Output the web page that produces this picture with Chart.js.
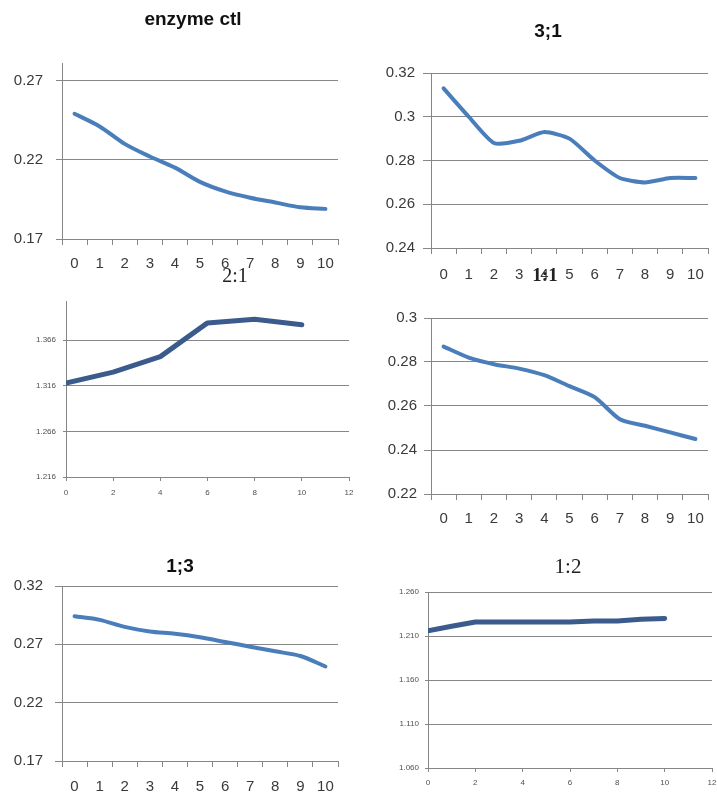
<!DOCTYPE html>
<html>
<head>
<meta charset="utf-8">
<script src="https://cdn.jsdelivr.net/npm/chart.js@4/dist/chart.umd.min.js"></script>
<style>
  html, body { margin: 0; padding: 0; background: #ffffff; overflow: hidden; width: 717px; height: 797px; }
  canvas { position: absolute; left: 0; top: 0; pointer-events: none; }
</style>
</head>
<body>
<canvas id="pEnzyme" width="760" height="840"></canvas>
<canvas id="p31" width="760" height="840"></canvas>
<canvas id="p21" width="760" height="840"></canvas>
<canvas id="p11" width="760" height="840"></canvas>
<canvas id="p13" width="760" height="840"></canvas>
<canvas id="p12" width="760" height="840"></canvas>
<script>
// ---- data ----
const timeLabels = ['0', '1', '2', '3', '4', '5', '6', '7', '8', '9', '10'];

const enzymeCtl = [0.249, 0.241, 0.230, 0.222, 0.215, 0.206, 0.200, 0.196, 0.193, 0.190, 0.189];
const ratio3to1 = [0.313, 0.300, 0.288, 0.289, 0.293, 0.290, 0.280, 0.272, 0.270, 0.272, 0.272];
const ratio1to1 = [0.287, 0.282, 0.279, 0.277, 0.274, 0.269, 0.264, 0.254, 0.251, 0.248, 0.245];
const ratio1to3 = [0.294, 0.291, 0.285, 0.281, 0.279, 0.276, 0.272, 0.268, 0.264, 0.260, 0.251];

const ratio2to1Time = [0, 2, 4, 6, 8, 10];
const ratio2to1 = [1.319, 1.331, 1.348, 1.385, 1.389, 1.383];

const ratio1to2Time = [0, 1, 2, 3, 4, 5, 6, 7, 8, 9, 10];
const ratio1to2 = [1.216, 1.221, 1.226, 1.226, 1.226, 1.226, 1.226, 1.227, 1.227, 1.229, 1.230];

// axis ticks
const enzymeTicks = [0.17, 0.22, 0.27];
const enzymeTickLabels = ['0.17', '0.22', '0.27'];
const ticks3to1 = [0.24, 0.26, 0.28, 0.30, 0.32];
const tickLabels3to1 = ['0.24', '0.26', '0.28', '0.3', '0.32'];
const ticks1to1 = [0.22, 0.24, 0.26, 0.28, 0.30];
const tickLabels1to1 = ['0.22', '0.24', '0.26', '0.28', '0.3'];
const ticks1to3 = [0.17, 0.22, 0.27, 0.32];
const tickLabels1to3 = ['0.17', '0.22', '0.27', '0.32'];
const ticks2to1 = [1.216, 1.266, 1.316, 1.366];
const tickLabels2to1 = ['1.216', '1.266', '1.316', '1.366'];
const ticks1to2 = [1.06, 1.11, 1.16, 1.21, 1.26];
const tickLabels1to2 = ['1.060', '1.110', '1.160', '1.210', '1.260'];
const timeTicks = [0, 2, 4, 6, 8, 10, 12];

// ---- drawing ----
const CANVAS_W = 760, CANVAS_H = 840;
const Y_AXIS_W = 55, X_AXIS_H = 40;
const GRID = '#878787';
const AXIS = '#868686';
const BLUE = '#4A7EBB';
const DARK_BLUE = '#3B5B8C';
const SANS = '"Liberation Sans", Arial, sans-serif';
const SERIF = '"Liberation Serif", "Times New Roman", serif';

// draws each panel's heading at a fixed spot on its canvas
const panelTitle = {
  id: 'panelTitle',
  afterDraw(chart, args, opts) {
    if (!opts || !opts.text) return;
    const ctx = chart.ctx;
    ctx.save();
    ctx.font = opts.font;
    ctx.fillStyle = opts.color || '#000';
    ctx.textAlign = 'center';
    ctx.textBaseline = 'middle';
    ctx.fillText(opts.text, opts.x, opts.y);
    ctx.restore();
  }
};

function makePanel(id, p) {
  const [left, top, right, bottom] = p.area;
  const isLinear = !!p.xValues;
  const points = isLinear ? p.xValues.map((x, i) => ({ x: x, y: p.values[i] })) : p.values;

  const xScale = isLinear ? {
    type: 'linear',
    min: 0, max: 12,
    afterFit: s => { s.height = X_AXIS_H; },
    afterBuildTicks: s => { s.ticks = timeTicks.map(v => ({ value: v })); },
    grid: { drawOnChartArea: false, tickLength: p.xTickLen, color: AXIS },
    border: { color: AXIS },
    ticks: { font: p.tickFont, color: p.tickColor, padding: p.xPad, maxRotation: 0 }
  } : {
    type: 'category',
    offset: true,
    afterFit: s => { s.height = X_AXIS_H; },
    grid: { offset: true, drawOnChartArea: false, tickLength: p.xTickLen, color: AXIS },
    border: { color: AXIS },
    ticks: { font: p.tickFont, color: p.tickColor, padding: p.xPad, maxRotation: 0, autoSkip: false }
  };

  new Chart(document.getElementById(id), {
    type: 'line',
    data: {
      labels: isLinear ? undefined : timeLabels,
      datasets: [{
        data: points,
        borderColor: p.color,
        borderWidth: p.lineWidth,
        borderCapStyle: 'round',
        borderJoinStyle: 'round',
        pointRadius: 0,
        tension: p.tension,
        fill: false
      }]
    },
    options: {
      responsive: false,
      animation: false,
      layout: {
        padding: {
          left: left - Y_AXIS_W,
          top: top,
          right: CANVAS_W - right,
          bottom: CANVAS_H - bottom - X_AXIS_H
        }
      },
      plugins: {
        legend: { display: false },
        tooltip: { enabled: false },
        title: { display: false },
        panelTitle: p.title
      },
      scales: {
        x: xScale,
        y: {
          min: p.yMin, max: p.yMax,
          afterFit: s => { s.width = Y_AXIS_W; },
          afterBuildTicks: s => { s.ticks = p.yTicks.map(v => ({ value: v })); },
          grid: { color: GRID, lineWidth: 1, tickLength: p.yTickLen },
          border: { color: AXIS },
          ticks: {
            font: p.tickFont, color: p.tickColor, padding: p.yPad,
            callback: (v, i) => p.yLabels[i]
          }
        }
      }
    },
    plugins: [panelTitle]
  });
}

const mainTick = { family: SANS, size: 15 };
const tinyTick = { family: SANS, size: 8 };

makePanel('pEnzyme', {
  area: [62, 63, 338, 239], yMin: 0.17, yMax: 0.281,
  values: enzymeCtl, yTicks: enzymeTicks, yLabels: enzymeTickLabels,
  color: BLUE, lineWidth: 4, tension: 0.3,
  tickFont: mainTick, tickColor: '#3a3a3a', xTickLen: 6, xPad: 10, yTickLen: 6, yPad: 13,
  title: { text: 'enzyme ctl', x: 193, y: 20, font: 'bold 19px ' + SANS, color: '#111' }
});

makePanel('p31', {
  area: [431, 73, 708, 248], yMin: 0.24, yMax: 0.32,
  values: ratio3to1, yTicks: ticks3to1, yLabels: tickLabels3to1,
  color: BLUE, lineWidth: 4, tension: 0.2,
  tickFont: mainTick, tickColor: '#3a3a3a', xTickLen: 6, xPad: 12, yTickLen: 8, yPad: 8,
  title: { text: '3;1', x: 548, y: 32, font: 'bold 19px ' + SANS, color: '#111' }
});

makePanel('p21', {
  area: [66, 301, 349, 477], yMin: 1.216, yMax: 1.409,
  xValues: ratio2to1Time, values: ratio2to1, yTicks: ticks2to1, yLabels: tickLabels2to1,
  color: DARK_BLUE, lineWidth: 5, tension: 0,
  tickFont: tinyTick, tickColor: '#505050', xTickLen: 4, xPad: 7, yTickLen: 3, yPad: 7,
  title: { text: '2:1', x: 235, y: 277, font: '20px ' + SERIF, color: '#222' }
});

makePanel('p11', {
  area: [431, 318, 708, 494], yMin: 0.22, yMax: 0.30,
  values: ratio1to1, yTicks: ticks1to1, yLabels: tickLabels1to1,
  color: BLUE, lineWidth: 4, tension: 0.25,
  tickFont: mainTick, tickColor: '#3a3a3a', xTickLen: 6, xPad: 10, yTickLen: 7, yPad: 7,
  title: { text: '1:1', x: 545, y: 276, font: 'bold 19px ' + SERIF, color: '#222' }
});

makePanel('p13', {
  area: [62, 586, 338, 761], yMin: 0.17, yMax: 0.32,
  values: ratio1to3, yTicks: ticks1to3, yLabels: tickLabels1to3,
  color: BLUE, lineWidth: 4, tension: 0.3,
  tickFont: mainTick, tickColor: '#3a3a3a', xTickLen: 6, xPad: 11, yTickLen: 7, yPad: 12,
  title: { text: '1;3', x: 180, y: 567, font: 'bold 19px ' + SANS, color: '#111' }
});

makePanel('p12', {
  area: [428, 592, 712, 768], yMin: 1.06, yMax: 1.26,
  xValues: ratio1to2Time, values: ratio1to2, yTicks: ticks1to2, yLabels: tickLabels1to2,
  color: DARK_BLUE, lineWidth: 5, tension: 0,
  tickFont: tinyTick, tickColor: '#505050', xTickLen: 4, xPad: 6, yTickLen: 3, yPad: 6,
  title: { text: '1:2', x: 568, y: 567, font: '21px ' + SERIF, color: '#222' }
});
</script>
</body>
</html>
